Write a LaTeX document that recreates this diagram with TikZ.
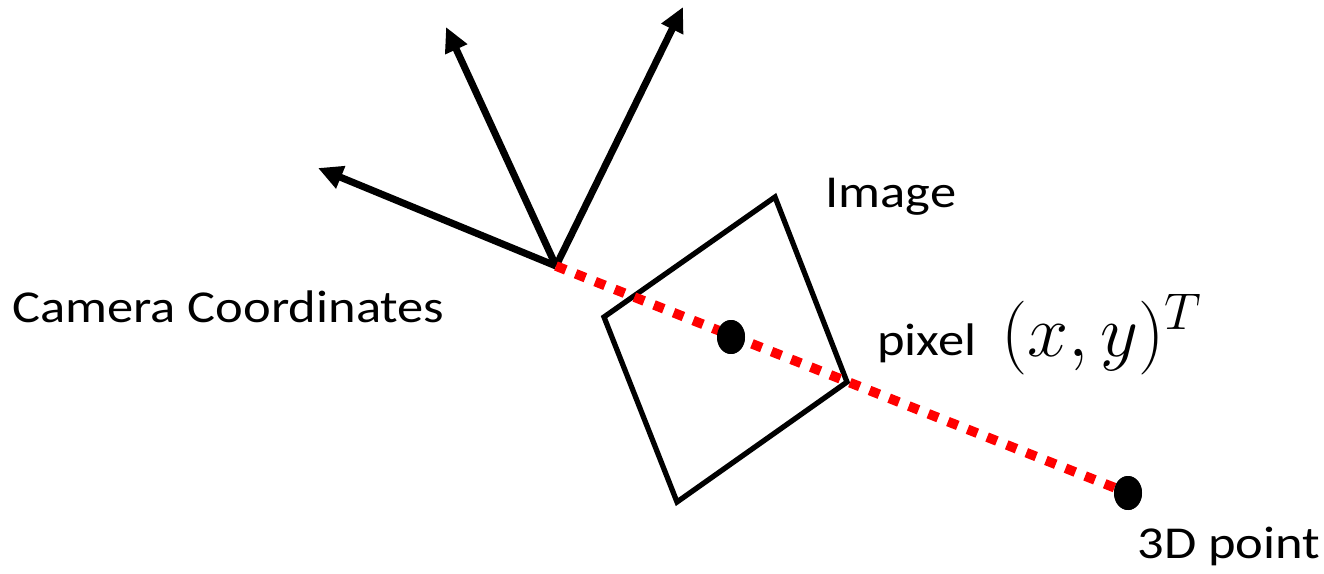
\RequirePackage{fix-cm}
\documentclass[tikz,border=0pt]{standalone}
\usepackage{fontspec}
\setmainfont{Carlito}[FakeStretch=1.15]
\usetikzlibrary{arrows.meta,shapes.geometric}

\tikzset{
    axis/.style={line width=4pt,-{Triangle[length=14pt,width=13pt]}},
    ray/.style={red,line width=5.5pt,dash pattern=on 6pt off 6pt},
    dot/.style={ellipse,fill=black,inner sep=0pt,minimum width=0.56cm,minimum height=0.68cm},
    lbl/.style={anchor=base west,inner sep=0pt,font=\fontsize{26}{30}\selectfont}
}

\begin{document}
\begin{tikzpicture}[x=0.02cm,y=-0.02cm]
    \useasboundingbox (0,0) rectangle (1324,574);

    % Camera frame
    \coordinate (cam) at (556,266);
    \coordinate (axl) at (318,168);
    \coordinate (axm) at (446,27);
    \coordinate (axr) at (683,7);
    \foreach \a in {axl,axm,axr} {
        \draw[axis] (cam) -- (\a);
    }

    % Image plane
    \draw[line width=3pt,line join=miter] (775,197) -- (604,317) -- (677,502) -- (847,382) -- cycle;

    % Projection ray
    \node[dot] (pix) at (731,337) {};
    \node[dot] (pt) at (1128,493) {};
    \draw[ray] (cam) -- (pt.center);
    \node[dot] at (pix) {};
    \node[dot] at (pt) {};

    % Labels
    \node[lbl] (camlbl) at (12,322) {Camera Coordinates};
    \node[lbl] (imglbl) at (825,208) {Image};
    \node[lbl] (pixlbl) at (877,355) {pixel};
    \node[anchor=base west,inner sep=0pt,font=\fontsize{42}{48}\selectfont] (xy) at (1001,356) {$(x,y)^T$};
    \node[lbl] (ptlbl) at (1137,558) {3D point};
\end{tikzpicture}
\end{document}
